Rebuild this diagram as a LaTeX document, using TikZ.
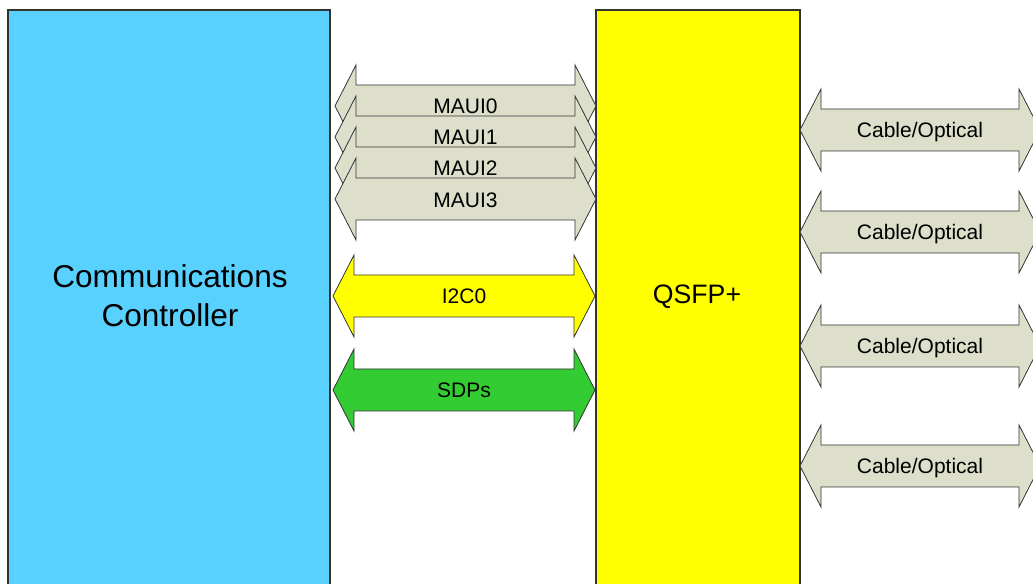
\documentclass[tikz,border=0pt]{standalone}
\usepackage{fontspec}
\setmainfont{Liberation Sans}
\definecolor{ccblue}{HTML}{59D1FF}
\definecolor{bus}{HTML}{DDDFCB}
\definecolor{qyel}{HTML}{FFFF00}
\definecolor{sdpgreen}{HTML}{33CC33}
\definecolor{edge}{HTML}{333333}
\newcommand\busarrow[5]{% x1, x2, yc, fill, name
  \draw[busline, fill=#4] (#1,#3) -- ++(21,-41) -- ++(0,20) -- (#2-21,#3-21) -- ++(0,-20)
    -- (#2,#3) -- (#2-21,#3+41) -- ++(0,-20) -- (#1+21,#3+21) -- ++(0,20) -- cycle;
  \node[buslabel] (#5) at ({(#1+#2)/2},#3) {};}
\begin{document}
\begin{tikzpicture}[x=0.75pt,y=-0.75pt,
  block/.style={draw=edge, line width=0.9pt},
  busline/.style={draw=edge, line width=0.6pt, line join=miter},
  buslabel/.style={inner sep=0pt, font=\fontsize{15.75}{18}\selectfont},
  bigtext/.style={align=center, font=\fontsize{23.7}{29}\selectfont}]
\useasboundingbox (0,0) rectangle (1033,584);
\clip (0,0) rectangle (1033,584);
\fill[white] (0,0) rectangle (1033,584);
% blocks
\draw[block, fill=ccblue] (8,10) rectangle (330,620);
\draw[block, fill=qyel] (596,10) rectangle (800,620);
\node[bigtext] (cc) at (170,296) {Communications\\Controller};
\node[font=\fontsize{20}{24}\selectfont] (qsfp) at (697,297) {QSFP+};
% MAUI buses
\busarrow{335}{596}{106}{bus}{m0}
\busarrow{335}{596}{137}{bus}{m1}
\busarrow{335}{596}{168}{bus}{m2}
\busarrow{335}{596}{199}{bus}{m3}
\node[buslabel] at (m0) {MAUI0};
\node[buslabel] at (m1) {MAUI1};
\node[buslabel] at (m2) {MAUI2};
\node[buslabel] at ([yshift=-0.75pt]m3) {MAUI3};
% I2C and SDPs
\busarrow{333}{595}{296}{qyel}{i2c}
\node[buslabel] at (i2c) {I2C0};
\busarrow{333}{595}{390}{sdpgreen}{sdp}
\node[buslabel] at (sdp) {SDPs};
% Cable/Optical
\busarrow{800}{1040}{130}{bus}{c0}
\busarrow{800}{1040}{232}{bus}{c1}
\busarrow{800}{1040}{346}{bus}{c2}
\busarrow{800}{1040}{466}{bus}{c3}
\node[buslabel] at ([yshift=-1.5pt]c0) {Cable/Optical};
\node[buslabel] at ([yshift=-1.5pt]c1) {Cable/Optical};
\node[buslabel] at ([yshift=-1.5pt]c2) {Cable/Optical};
\node[buslabel] at ([yshift=-1.5pt]c3) {Cable/Optical};
\end{tikzpicture}
\end{document}
